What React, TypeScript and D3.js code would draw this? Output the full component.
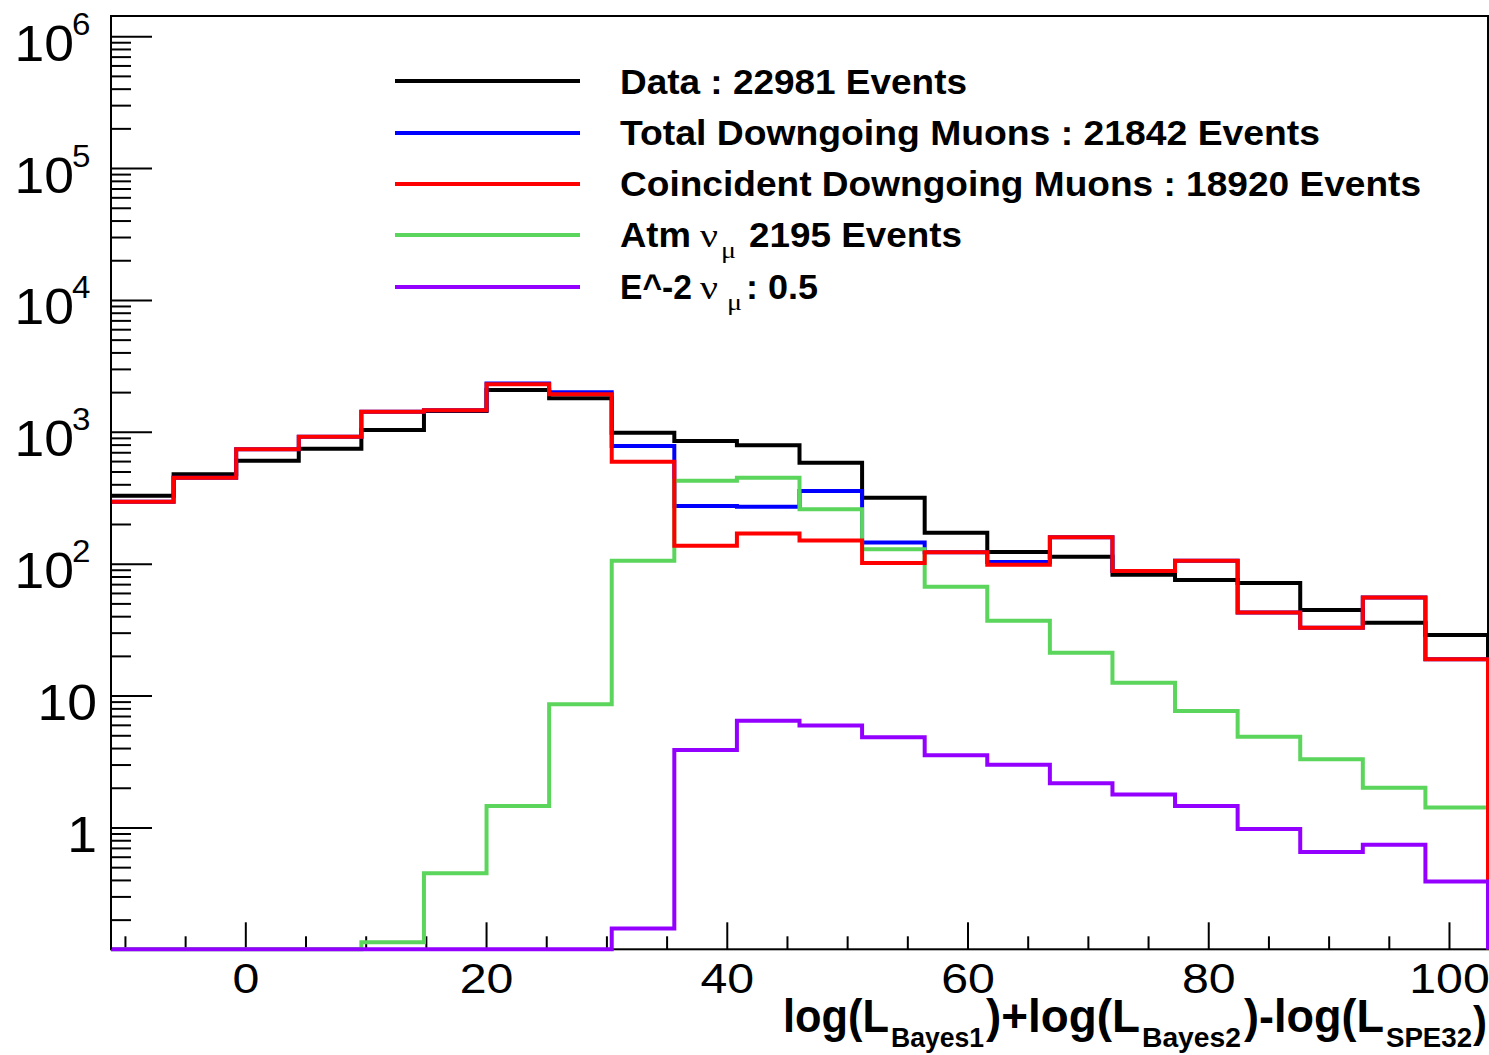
import React from 'react';
import * as d3 from 'd3';

// ---------- data ----------
const xDomain = [-11.2, 103.2];
const nBins = 22;
const yDomain = [0.1202, 1.435e6];

const dataCounts = [330, 481, 609, 751, 1041, 1450, 2093, 1811, 993, 859, 797, 589, 319, 173, 124, 114, 83, 76, 72, 45, 36, 29];
const totalMuons = [298, 453, 743, 927, 1432, 1470, 2350, 2012, 787, 276, 273, 359, 146, 123, 104, 160, 89, 106, 43, 33, 56, 19];
const coincMuons = [298, 453, 743, 927, 1432, 1470, 2312, 1941, 599, 138, 171, 151, 102, 123, 99, 160, 89, 106, 43, 33, 56, 19];
const atmNuMu = [0, 0, 0, 0, 0.136, 0.453, 1.47, 8.67, 106, 430, 453, 261, 130, 67.5, 37.3, 21.3, 12.6, 7.71, 4.92, 3.32, 2.02, 1.43];
const e2NuMu = [0, 0, 0, 0, 0, 0, 0, 0, 0.173, 3.9, 6.51, 5.97, 4.87, 3.56, 3.02, 2.18, 1.79, 1.47, 0.98, 0.658, 0.747, 0.392];

const xMajorTicks = [0, 20, 40, 60, 80, 100];
const yMajorExps = [0, 1, 2, 3, 4, 5, 6];

const legendItems = [
  { key: 'data', color: '#000000' },
  { key: 'total', color: '#0000ff' },
  { key: 'coinc', color: '#ff0000' },
  { key: 'atm', color: '#5cd55c' },
  { key: 'e2', color: '#9400ff' },
];

const series = [
  { values: dataCounts, color: '#000000' },
  { values: totalMuons, color: '#0000ff' },
  { values: atmNuMu, color: '#5cd55c' },
  { values: coincMuons, color: '#ff0000' },
  { values: e2NuMu, color: '#9400ff' },
];

const W = 1489;
const H = 1055;
const L = 111, R = 1488, T = 16, B = 949.3;
const SX = 1.15; // horizontal stretch of x labels
const SXY = 1.07; // horizontal stretch of y labels
const FONT = '"Liberation Sans", Arial, Helvetica, sans-serif';
const SERIF = '"Liberation Serif", "Times New Roman", serif';

export default function App() {
  const x = d3.scaleLinear().domain(xDomain).range([L, R]);
  const y = d3.scaleLog().domain(yDomain).range([B, T]);
  const bw = (xDomain[1] - xDomain[0]) / nBins;
  const edges = d3.range(nBins + 1).map((i) => xDomain[0] + i * bw);
  const yv = (v: number) => (v <= yDomain[0] ? B : y(v));

  const histPath = (vals: number[]) => {
    let p = `M${x(edges[0])},${yv(vals[0])}`;
    vals.forEach((v, i) => {
      p += `V${yv(v)}H${x(edges[i + 1])}`;
    });
    p += `V${B}`;
    return p;
  };

  const xMinor = d3.range(-10, 104, 5).filter((v) => !xMajorTicks.includes(v));
  const yMinor: number[] = [];
  for (let e = -1; e <= 6; e++) {
    for (let k = 2; k <= 9; k++) {
      const v = k * Math.pow(10, e);
      if (v > yDomain[0] && v < yDomain[1]) yMinor.push(v);
    }
  }

  const legendLineY = [81, 133, 184, 235, 287];
  const lx0 = 395, lx1 = 580, tx = 620;
  const lfs = 35;

  return (
    <svg
      width={W}
      height={H}
      viewBox={`0 0 ${W} ${H}`}
      style={{ position: 'absolute', left: 0, top: 0, background: '#fff' }}
      fontFamily={FONT}
    >
      <rect x={0} y={0} width={W} height={H} fill="#fff" />
      {/* frame */}
      <rect x={L} y={T} width={R - L} height={B - T} fill="none" stroke="#000" strokeWidth={2} />

      {/* y ticks */}
      {yMajorExps.map((e) => (
        <line key={'ym' + e} x1={L} x2={L + 41} y1={y(Math.pow(10, e))} y2={y(Math.pow(10, e))} stroke="#000" strokeWidth={2} />
      ))}
      {yMinor.map((v, i) => (
        <line key={'yn' + i} x1={L} x2={L + 20} y1={y(v)} y2={y(v)} stroke="#000" strokeWidth={2} />
      ))}
      {/* x ticks */}
      {xMajorTicks.map((v) => (
        <line key={'xm' + v} x1={x(v)} x2={x(v)} y1={B} y2={B - 27} stroke="#000" strokeWidth={2} />
      ))}
      {xMinor.map((v) => (
        <line key={'xn' + v} x1={x(v)} x2={x(v)} y1={B} y2={B - 13} stroke="#000" strokeWidth={2} />
      ))}

      {/* histograms */}
      {series.map((s, i) => (
        <path key={'h' + i} d={histPath(s.values)} fill="none" stroke={s.color} strokeWidth={4} strokeLinejoin="miter" strokeLinecap="butt" />
      ))}
      {/* left axis line redrawn above histograms */}
      <line x1={L} x2={L} y1={T} y2={B} stroke="#000" strokeWidth={2} />

      {/* y tick labels */}
      {yMajorExps.map((e) => {
        const ty = y(Math.pow(10, e));
        if (e <= 1) {
          return (
            <text key={'yl' + e} transform={`translate(97,${ty + 24}) scale(${SXY},1)`} textAnchor="end" fontSize={50}>
              {e === 0 ? '1' : '10'}
            </text>
          );
        }
        return (
          <g key={'yl' + e}>
            <text transform={`translate(74,${ty + 24}) scale(${SXY},1)`} textAnchor="end" fontSize={50}>10</text>
            <text transform={`translate(72,${ty - 2}) scale(${SXY},1)`} textAnchor="start" fontSize={31}>{String(e)}</text>
          </g>
        );
      })}

      {/* x tick labels */}
      {xMajorTicks.map((v) => (
        <text key={'xl' + v} transform={`translate(${x(v)},993) scale(${SX},1)`} textAnchor="middle" fontSize={42}>
          {String(v)}
        </text>
      ))}

      {/* axis title */}
      <g fontWeight="bold">
        <text x={783} y={1032} fontSize={47} textLength={106} lengthAdjust="spacingAndGlyphs">log(L</text>
        <text x={891} y={1047} fontSize={27} textLength={93} lengthAdjust="spacingAndGlyphs">Bayes1</text>
        <text x={986} y={1032} fontSize={47} textLength={154} lengthAdjust="spacingAndGlyphs">)+log(L</text>
        <text x={1142} y={1047} fontSize={27} textLength={99} lengthAdjust="spacingAndGlyphs">Bayes2</text>
        <text x={1244} y={1032} fontSize={47} textLength={140} lengthAdjust="spacingAndGlyphs">)-log(L</text>
        <text x={1386} y={1047} fontSize={27} textLength={86} lengthAdjust="spacingAndGlyphs">SPE32</text>
        <text x={1473} y={1037} fontSize={45} textLength={14} lengthAdjust="spacingAndGlyphs">)</text>
      </g>

      {/* legend */}
      {legendItems.map((it, i) => (
        <line key={'ll' + i} x1={lx0} x2={lx1} y1={legendLineY[i]} y2={legendLineY[i]} stroke={it.color} strokeWidth={4} />
      ))}
      <g fontWeight="bold" fontSize={lfs}>
        <text x={tx} y={legendLineY[0] + 13} textLength={347} lengthAdjust="spacingAndGlyphs">Data : 22981 Events</text>
        <text x={tx} y={legendLineY[1] + 12} textLength={700} lengthAdjust="spacingAndGlyphs">Total Downgoing Muons : 21842 Events</text>
        <text x={tx} y={legendLineY[2] + 12} textLength={801} lengthAdjust="spacingAndGlyphs">Coincident Downgoing Muons : 18920 Events</text>
        <text x={tx} y={legendLineY[3] + 12} textLength={71} lengthAdjust="spacingAndGlyphs">Atm</text>
        <text x={749} y={legendLineY[3] + 12} textLength={213} lengthAdjust="spacingAndGlyphs">2195 Events</text>
        <text x={tx} y={legendLineY[4] + 12} textLength={72} lengthAdjust="spacingAndGlyphs">E^-2</text>
        <text x={746} y={legendLineY[4] + 12} textLength={72} lengthAdjust="spacingAndGlyphs">: 0.5</text>
      </g>
      <g fontFamily={SERIF}>
        <text x={700} y={legendLineY[3] + 12} fontSize={34} textLength={18} lengthAdjust="spacingAndGlyphs">ν</text>
        <text x={721} y={legendLineY[3] + 23} fontSize={24} textLength={15} lengthAdjust="spacingAndGlyphs">μ</text>
        <text x={700} y={legendLineY[4] + 12} fontSize={34} textLength={18} lengthAdjust="spacingAndGlyphs">ν</text>
        <text x={727} y={legendLineY[4] + 23} fontSize={24} textLength={15} lengthAdjust="spacingAndGlyphs">μ</text>
      </g>
    </svg>
  );
}
